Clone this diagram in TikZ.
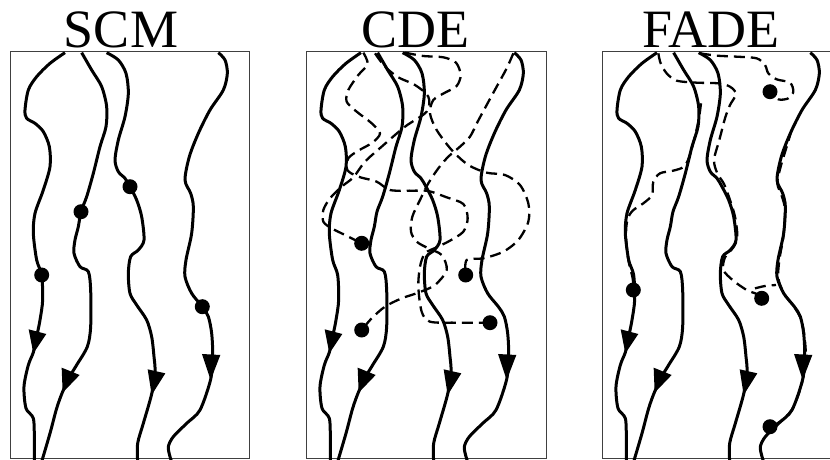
\documentclass[tikz,border=0pt]{standalone}
\usepackage{fontspec}
\setmainfont{Liberation Serif}
\newcommand{\myStreams}{%
  \draw[streamline] plot[smooth] coordinates {(195,38) (150,70) (110,110) (85,150) (75,210) (80,235) (105,250) (130,275) (148,320) (150,380) (130,450) (105,520) (100,580) (110,660) (125,705) (128,780) (120,840) (110,890) (100,937) (85,975) (72,1040) (78,1105) (100,1135) (103,1200) (103,1265)};
  \draw[streamline] plot[smooth] coordinates {(245,38) (275,90) (305,140) (320,200) (318,260) (300,320) (280,400) (260,470) (243,515) (235,560) (225,600) (222,640) (240,680) (265,695) (272,750) (272,860) (262,920) (230,975) (212,1005) (188,1055) (170,1105) (150,1180) (125,1265)};
  \draw[streamline] plot[smooth] coordinates {(320,38) (355,60) (378,100) (385,160) (375,230) (355,300) (345,360) (355,395) (375,415) (390,440) (410,480) (425,530) (432,600) (415,630) (392,650) (385,700) (390,760) (410,795) (440,840) (455,890) (462,950) (465,995) (455,1062) (430,1150) (413,1210) (413,1265)};
  \draw[streamline] plot[smooth] coordinates {(655,38) (675,60) (682,100) (670,150) (630,210) (595,280) (568,350) (555,420) (572,460) (580,500) (575,580) (558,660) (555,710) (575,760) (607,800) (625,830) (635,880) (638,945) (632,1018) (600,1110) (560,1150) (520,1190) (505,1220) (510,1250) (515,1265)};
  \fill[arrowhd] (86,868) -- (139,882) -- (100,940) -- cycle;
  \fill[arrowhd] (185,983) -- (239,1005) -- (188,1058) -- cycle;
  \fill[arrowhd] (443,988) -- (496,1000) -- (455,1065) -- cycle;
  \fill[arrowhd] (606,942) -- (661,945) -- (632,1020) -- cycle;
}
\begin{document}
\begin{tikzpicture}[x=1pt,y=-1pt,
  streamline/.style={line width=3pt, line join=round},
  pathline/.style={line width=2.3pt, dash pattern=on 11pt off 6pt},
  arrowhd/.style={fill=black},
  particle/.style={circle, fill=black, inner sep=0pt, minimum size=15pt},
  frame/.style={line width=1pt, draw=black!75},
  title/.style={font=\fontsize{54}{60}\selectfont, anchor=base}]
\clip (0,0) rectangle (830,460);
\fill[white] (0,0) rectangle (830,460);

% titles
\node[title] (tscm) at (121,48) {SCM};
\node[title] (tcde) at (415,48) {CDE};
\node[title] (tfade) at (711,48) {FADE};

% frames
\draw[frame] (10,52) rectangle (249,458.5);
\draw[frame] (306,52) rectangle (546,458.5);
\draw[frame] (602,52) rectangle (842,458.5);

% streamlines
\begin{scope}[shift={(0,40)}, scale=0.33333]
  \myStreams
\end{scope}
\begin{scope}[shift={(296,40)}, scale=0.33333]
  \myStreams
\end{scope}
\begin{scope}[shift={(592,40)}, scale=0.33333]
  \myStreams
\end{scope}

% CDE pathlines
\begin{scope}[shift={(295,40)}, scale=0.33333]
  \draw[pathline] plot[smooth] coordinates {(205,38) (218,72) (190,105) (160,150) (155,185) (185,215) (228,248) (255,280) (232,308) (190,332) (160,355) (157,390) (190,410) (245,425) (285,450) (350,452) (400,453) (455,472) (505,492) (518,535) (505,575) (465,602) (425,622) (390,640) (375,680) (370,740) (380,815) (405,845) (480,848) (585,848)};
  \draw[pathline] plot[smooth] coordinates {(655,40) (635,85) (605,140) (575,195) (548,245) (525,290) (495,320) (460,350) (430,385) (400,430) (375,480) (352,530) (348,575) (365,605) (400,625) (440,645) (455,690) (420,735) (370,758) (320,775) (270,800) (230,835) (200,870)};
  \draw[pathline] plot[smooth] coordinates {(330,38) (385,48) (445,52) (483,68) (497,105) (485,138) (450,158) (415,180) (405,220) (425,270) (470,330) (520,375) (575,398) (630,405) (675,435) (700,490) (700,545) (670,600) (625,635) (565,655) (515,660) (512,705)};
  \draw[pathline] plot[smooth] coordinates {(240,40) (270,80) (310,112) (360,135) (400,170) (395,215) (330,260) (260,320) (210,365) (175,412) (140,440) (105,475) (85,510) (85,545) (110,565) (150,585) (200,610)};
\end{scope}

% FADE pathlines
\begin{scope}[shift={(590,40)}, scale=0.33333]
  \draw[pathline] plot[smooth] coordinates {(330,40) (380,47) (440,50) (500,55) (525,75) (535,100) (560,118) (600,128) (610,155) (595,175) (565,178) (540,155)};
  \draw[pathline] plot[smooth] coordinates {(205,40) (212,70) (230,100) (260,122) (320,128) (385,130) (420,140) (438,162) (420,195) (405,235) (388,300) (372,360) (382,400) (402,432) (420,480) (435,530) (442,590) (430,622) (405,652) (400,690) (430,722) (470,750) (500,762) (515,775)};
  \draw[pathline] plot[smooth] coordinates {(333,190) (326,240) (312,300) (298,350) (282,380) (250,392) (210,400) (190,425) (186,465) (160,490) (128,512) (112,540) (108,590) (115,660) (128,715) (130,750)};
  \draw[pathline] plot[smooth] coordinates {(605,270) (590,320) (572,380) (562,430) (576,470) (585,510) (580,590) (568,660) (565,715) (582,760) (612,800) (632,835) (643,885) (648,955) (642,1000) (630,1050) (605,1110) (570,1145) (540,1160)};
  \draw[pathline] plot[smooth] coordinates {(495,745) (525,738) (558,735)};
\end{scope}

% particles
\node[particle] (s1) at (41.7,275) {};
\node[particle] (s2) at (81,211.7) {};
\node[particle] (s3) at (130,186.7) {};
\node[particle] (s4) at (202.3,306.7) {};
\node[particle] (c1) at (361.7,243.3) {};
\node[particle] (c2) at (361.7,330) {};
\node[particle] (c3) at (465.7,275) {};
\node[particle] (c4) at (490,322.7) {};
\node[particle] (f1) at (770,91.7) {};
\node[particle] (f2) at (633.3,290) {};
\node[particle] (f3) at (761.7,298.3) {};
\node[particle] (f4) at (770,426.7) {};
\end{tikzpicture}
\end{document}
